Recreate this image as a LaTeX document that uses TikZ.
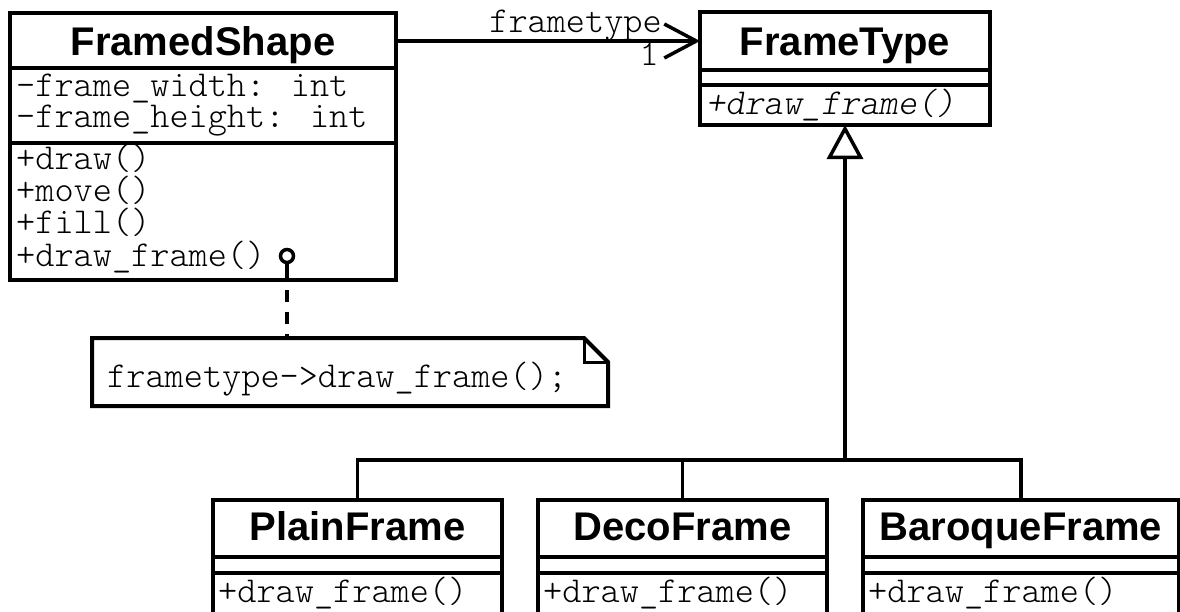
\documentclass[tikz,border=0pt]{standalone}
\usepackage{fontspec}
\setmainfont{Liberation Sans}
\newfontfamily\monof{Latin Modern Mono Light}
\usetikzlibrary{arrows.meta}
\begin{document}
\begin{tikzpicture}[x=1pt,y=-1pt,
  umlbox/.style={draw, line width=4pt, inner sep=0pt, outer sep=0pt, anchor=north west},
  ttl/.style={font=\fontsize{40}{40}\selectfont\bfseries, inner sep=0pt, anchor=base},
  mtxt/.style={font=\monof\fontsize{36.5}{31}\selectfont, inner sep=0pt, anchor=base west, align=left},
  sepline/.style={line width=4pt},
  conn/.style={line width=3.5pt}]
\useasboundingbox (0,0) rectangle (1180,611);
\clip (0,0) rectangle (1180,611);

% FramedShape
\node[umlbox, minimum width=386pt, minimum height=267pt] (fs) at (10,13) {};
\draw[sepline] (fs.west |- 0,68) -- (fs.east |- 0,68);
\draw[sepline] (fs.west |- 0,143) -- (fs.east |- 0,143);
\node[ttl] (fst) at (203,55) {FramedShape};
% multi-line nodes: base anchor is the baseline of the last line
\node[mtxt] (fattr) at (16,127) {-frame\_width: int\\-frame\_height: int};
\node[mtxt, font=\monof\fontsize{36.5}{32.3}\selectfont] (fmeth) at (16,266) {+draw()\\+move()\\+fill()\\+draw\_frame()};

% FrameType
\node[umlbox, minimum width=290pt, minimum height=113pt] (ft) at (700,12) {};
\draw[sepline] (ft.west |- 0,70) -- (ft.east |- 0,70);
\draw[sepline] (ft.west |- 0,85) -- (ft.east |- 0,85);
\node[ttl] (ftt) at (845,55) {FrameType};
\node[mtxt, font=\monof\slshape\fontsize{36.5}{31}\selectfont] (ftm) at (706,114) {+draw\_frame()};

% association
\draw[conn, -{Straight Barb[length=32pt,width=34pt]}] (fs.east |- 0,41) -- (ft.west |- 0,41);
\node[mtxt, anchor=base east] (lab1) at (662,32) {frametype};
\node[mtxt, anchor=base east] (lab2) at (659,65) {1};

% note
\node[draw=none, minimum width=516pt, minimum height=68pt, inner sep=0pt, outer sep=0pt, anchor=north west] (note) at (92,338) {};
\draw[sepline, line join=miter] (note.north west) -- ([xshift=-24pt]note.north east) -- ([yshift=-24pt]note.north east) -- (note.south east) -- (note.south west) -- cycle;
\draw[line width=3pt] ([xshift=-24pt]note.north east) -- ([xshift=-24pt,yshift=-24pt]note.north east) -- ([yshift=-24pt]note.north east);
\node[mtxt] (notetxt) at (107,387) {frametype->draw\_frame();};

% lollipop + dashed link
\node[draw, circle, line width=3.5pt, minimum size=13pt, inner sep=0pt] (lol) at (287,256) {};
\draw[conn] (lol.south) -- (lol.south |- fs.south);
\draw[conn, dash pattern=on 12pt off 10pt, dash phase=12pt] (lol.south |- fs.south) -- (lol.south |- note.north);

% subclasses
\node[umlbox, minimum width=289pt, minimum height=130pt] (pf) at (213,500) {};
\node[umlbox, minimum width=289pt, minimum height=130pt] (df) at (538,500) {};
\node[umlbox, minimum width=316pt, minimum height=130pt] (bf) at (863,500) {};
\foreach \b in {pf,df,bf}{
  \draw[sepline] (\b.west |- 0,557) -- (\b.east |- 0,557);
  \draw[sepline] (\b.west |- 0,573) -- (\b.east |- 0,573);
}
\node[ttl] (pft) at (357.5,540) {PlainFrame};
\node[ttl] (dft) at (682.5,540) {DecoFrame};
\node[ttl] (bft) at (1021,540) {BaroqueFrame};
\node[mtxt] (pfm) at (218,602) {+draw\_frame()};
\node[mtxt] (dfm) at (543,602) {+draw\_frame()};
\node[mtxt] (bfm) at (868,602) {+draw\_frame()};

% generalization
\coordinate (j) at (845,460);
\draw[conn, -{Triangle[open, length=34pt, width=36pt, fill=white]}] (j) -- (ft.south);
\draw[conn] (pf.north) |- (j);
\draw[conn] (df.north) |- (j);
\draw[conn] (bf.north) |- (j);
\end{tikzpicture}
\end{document}
